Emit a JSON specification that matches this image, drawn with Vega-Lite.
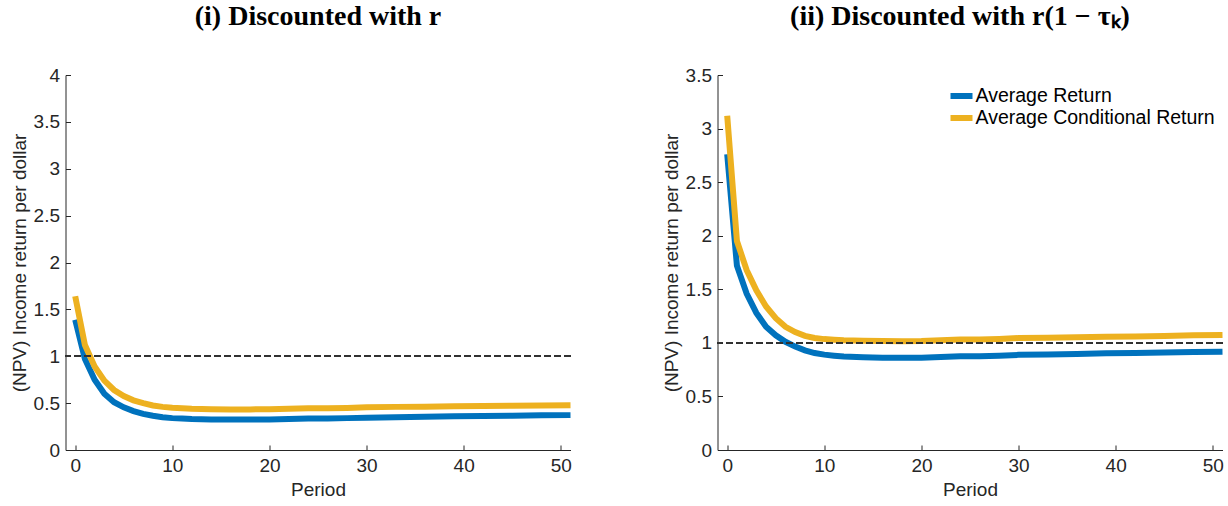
{
  "$schema": "https://vega.github.io/schema/vega-lite/v6.json",
  "padding": {"left": 9.5, "top": 3, "right": 2, "bottom": 2},
  "background": "white",
  "bounds": "flush",
  "spacing": 147,
  "datasets": {
    "d": [
      {"panel": "L", "series": "Average Return", "period": 0, "value": 1.39},
      {"panel": "L", "series": "Average Return", "period": 1, "value": 0.97},
      {"panel": "L", "series": "Average Return", "period": 2, "value": 0.75},
      {"panel": "L", "series": "Average Return", "period": 3, "value": 0.6},
      {"panel": "L", "series": "Average Return", "period": 4, "value": 0.51},
      {"panel": "L", "series": "Average Return", "period": 5, "value": 0.455},
      {"panel": "L", "series": "Average Return", "period": 6, "value": 0.415},
      {"panel": "L", "series": "Average Return", "period": 7, "value": 0.385},
      {"panel": "L", "series": "Average Return", "period": 8, "value": 0.365},
      {"panel": "L", "series": "Average Return", "period": 9, "value": 0.35},
      {"panel": "L", "series": "Average Return", "period": 10, "value": 0.34},
      {"panel": "L", "series": "Average Return", "period": 11, "value": 0.335},
      {"panel": "L", "series": "Average Return", "period": 12, "value": 0.33},
      {"panel": "L", "series": "Average Return", "period": 14, "value": 0.325},
      {"panel": "L", "series": "Average Return", "period": 16, "value": 0.325},
      {"panel": "L", "series": "Average Return", "period": 18, "value": 0.325},
      {"panel": "L", "series": "Average Return", "period": 20, "value": 0.325},
      {"panel": "L", "series": "Average Return", "period": 22, "value": 0.33},
      {"panel": "L", "series": "Average Return", "period": 24, "value": 0.335},
      {"panel": "L", "series": "Average Return", "period": 26, "value": 0.335},
      {"panel": "L", "series": "Average Return", "period": 28, "value": 0.34},
      {"panel": "L", "series": "Average Return", "period": 30, "value": 0.345},
      {"panel": "L", "series": "Average Return", "period": 33, "value": 0.35},
      {"panel": "L", "series": "Average Return", "period": 36, "value": 0.355},
      {"panel": "L", "series": "Average Return", "period": 39, "value": 0.36},
      {"panel": "L", "series": "Average Return", "period": 42, "value": 0.362},
      {"panel": "L", "series": "Average Return", "period": 45, "value": 0.365},
      {"panel": "L", "series": "Average Return", "period": 48, "value": 0.37},
      {"panel": "L", "series": "Average Return", "period": 51, "value": 0.372},
      {"panel": "L", "series": "Average Conditional Return", "period": 0, "value": 1.64},
      {"panel": "L", "series": "Average Conditional Return", "period": 1, "value": 1.12},
      {"panel": "L", "series": "Average Conditional Return", "period": 2, "value": 0.89},
      {"panel": "L", "series": "Average Conditional Return", "period": 3, "value": 0.74},
      {"panel": "L", "series": "Average Conditional Return", "period": 4, "value": 0.64},
      {"panel": "L", "series": "Average Conditional Return", "period": 5, "value": 0.575},
      {"panel": "L", "series": "Average Conditional Return", "period": 6, "value": 0.53},
      {"panel": "L", "series": "Average Conditional Return", "period": 7, "value": 0.5},
      {"panel": "L", "series": "Average Conditional Return", "period": 8, "value": 0.475},
      {"panel": "L", "series": "Average Conditional Return", "period": 9, "value": 0.46},
      {"panel": "L", "series": "Average Conditional Return", "period": 10, "value": 0.45},
      {"panel": "L", "series": "Average Conditional Return", "period": 11, "value": 0.445},
      {"panel": "L", "series": "Average Conditional Return", "period": 12, "value": 0.44},
      {"panel": "L", "series": "Average Conditional Return", "period": 14, "value": 0.435},
      {"panel": "L", "series": "Average Conditional Return", "period": 16, "value": 0.433},
      {"panel": "L", "series": "Average Conditional Return", "period": 18, "value": 0.433},
      {"panel": "L", "series": "Average Conditional Return", "period": 20, "value": 0.435},
      {"panel": "L", "series": "Average Conditional Return", "period": 22, "value": 0.44},
      {"panel": "L", "series": "Average Conditional Return", "period": 24, "value": 0.445},
      {"panel": "L", "series": "Average Conditional Return", "period": 26, "value": 0.445},
      {"panel": "L", "series": "Average Conditional Return", "period": 28, "value": 0.448},
      {"panel": "L", "series": "Average Conditional Return", "period": 30, "value": 0.455},
      {"panel": "L", "series": "Average Conditional Return", "period": 33, "value": 0.46},
      {"panel": "L", "series": "Average Conditional Return", "period": 36, "value": 0.462},
      {"panel": "L", "series": "Average Conditional Return", "period": 39, "value": 0.466},
      {"panel": "L", "series": "Average Conditional Return", "period": 42, "value": 0.47},
      {"panel": "L", "series": "Average Conditional Return", "period": 45, "value": 0.472},
      {"panel": "L", "series": "Average Conditional Return", "period": 48, "value": 0.475},
      {"panel": "L", "series": "Average Conditional Return", "period": 51, "value": 0.478},
      {"panel": "R", "series": "Average Return", "period": 0, "value": 2.76},
      {"panel": "R", "series": "Average Return", "period": 1, "value": 1.72},
      {"panel": "R", "series": "Average Return", "period": 2, "value": 1.46},
      {"panel": "R", "series": "Average Return", "period": 3, "value": 1.28},
      {"panel": "R", "series": "Average Return", "period": 4, "value": 1.15},
      {"panel": "R", "series": "Average Return", "period": 5, "value": 1.07},
      {"panel": "R", "series": "Average Return", "period": 6, "value": 1.01},
      {"panel": "R", "series": "Average Return", "period": 7, "value": 0.965},
      {"panel": "R", "series": "Average Return", "period": 8, "value": 0.93},
      {"panel": "R", "series": "Average Return", "period": 9, "value": 0.905},
      {"panel": "R", "series": "Average Return", "period": 10, "value": 0.89},
      {"panel": "R", "series": "Average Return", "period": 11, "value": 0.88},
      {"panel": "R", "series": "Average Return", "period": 12, "value": 0.872},
      {"panel": "R", "series": "Average Return", "period": 14, "value": 0.865},
      {"panel": "R", "series": "Average Return", "period": 16, "value": 0.862},
      {"panel": "R", "series": "Average Return", "period": 18, "value": 0.86},
      {"panel": "R", "series": "Average Return", "period": 20, "value": 0.862},
      {"panel": "R", "series": "Average Return", "period": 22, "value": 0.868},
      {"panel": "R", "series": "Average Return", "period": 24, "value": 0.875},
      {"panel": "R", "series": "Average Return", "period": 26, "value": 0.875},
      {"panel": "R", "series": "Average Return", "period": 28, "value": 0.88},
      {"panel": "R", "series": "Average Return", "period": 30, "value": 0.888},
      {"panel": "R", "series": "Average Return", "period": 33, "value": 0.892},
      {"panel": "R", "series": "Average Return", "period": 36, "value": 0.897},
      {"panel": "R", "series": "Average Return", "period": 39, "value": 0.902},
      {"panel": "R", "series": "Average Return", "period": 42, "value": 0.905},
      {"panel": "R", "series": "Average Return", "period": 45, "value": 0.91},
      {"panel": "R", "series": "Average Return", "period": 48, "value": 0.915},
      {"panel": "R", "series": "Average Return", "period": 51, "value": 0.918},
      {"panel": "R", "series": "Average Conditional Return", "period": 0, "value": 3.12},
      {"panel": "R", "series": "Average Conditional Return", "period": 1, "value": 1.95},
      {"panel": "R", "series": "Average Conditional Return", "period": 2, "value": 1.68},
      {"panel": "R", "series": "Average Conditional Return", "period": 3, "value": 1.49},
      {"panel": "R", "series": "Average Conditional Return", "period": 4, "value": 1.34},
      {"panel": "R", "series": "Average Conditional Return", "period": 5, "value": 1.23},
      {"panel": "R", "series": "Average Conditional Return", "period": 6, "value": 1.15},
      {"panel": "R", "series": "Average Conditional Return", "period": 7, "value": 1.1},
      {"panel": "R", "series": "Average Conditional Return", "period": 8, "value": 1.065},
      {"panel": "R", "series": "Average Conditional Return", "period": 9, "value": 1.045},
      {"panel": "R", "series": "Average Conditional Return", "period": 10, "value": 1.035},
      {"panel": "R", "series": "Average Conditional Return", "period": 11, "value": 1.03},
      {"panel": "R", "series": "Average Conditional Return", "period": 12, "value": 1.025},
      {"panel": "R", "series": "Average Conditional Return", "period": 14, "value": 1.02},
      {"panel": "R", "series": "Average Conditional Return", "period": 16, "value": 1.018},
      {"panel": "R", "series": "Average Conditional Return", "period": 18, "value": 1.016},
      {"panel": "R", "series": "Average Conditional Return", "period": 20, "value": 1.018},
      {"panel": "R", "series": "Average Conditional Return", "period": 22, "value": 1.025},
      {"panel": "R", "series": "Average Conditional Return", "period": 24, "value": 1.032},
      {"panel": "R", "series": "Average Conditional Return", "period": 26, "value": 1.032},
      {"panel": "R", "series": "Average Conditional Return", "period": 28, "value": 1.037},
      {"panel": "R", "series": "Average Conditional Return", "period": 30, "value": 1.045},
      {"panel": "R", "series": "Average Conditional Return", "period": 33, "value": 1.048},
      {"panel": "R", "series": "Average Conditional Return", "period": 36, "value": 1.052},
      {"panel": "R", "series": "Average Conditional Return", "period": 39, "value": 1.057},
      {"panel": "R", "series": "Average Conditional Return", "period": 42, "value": 1.06},
      {"panel": "R", "series": "Average Conditional Return", "period": 45, "value": 1.065},
      {"panel": "R", "series": "Average Conditional Return", "period": 48, "value": 1.07},
      {"panel": "R", "series": "Average Conditional Return", "period": 51, "value": 1.073}
    ]
  },
  "resolve": {"scale": {"color": "independent", "y": "independent"}, "legend": {"color": "independent"}},
  "hconcat": [
    {
      "width": 505,
      "height": 375,
      "title": {"text": "(i) Discounted with r"},
      "data": {"name": "d"},
      "transform": [{"filter": "datum.panel === 'L'"}],
      "layer": [
        {
          "mark": {"type": "line", "strokeWidth": 6, "strokeCap": "butt", "strokeJoin": "miter"},
          "encoding": {
            "x": {"field": "period", "type": "quantitative", "scale": {"domain": [-1, 51], "nice": false, "zero": false}, "axis": {"values": [0, 10, 20, 30, 40, 50], "title": "Period"}},
            "y": {"field": "value", "type": "quantitative", "scale": {"domain": [0, 4], "nice": false}, "axis": {"values": [0, 0.5, 1, 1.5, 2, 2.5, 3, 3.5, 4], "format": ".1~f", "title": "(NPV) Income return per dollar"}},
            "color": {"field": "series", "type": "nominal", "scale": {"domain": ["Average Return", "Average Conditional Return"], "range": ["#0072BD", "#EDB120"]}, "legend": null}
          }
        },
        {
          "mark": {"type": "rule", "strokeDash": [6, 4], "strokeWidth": 1, "color": "#333333"},
          "encoding": {"y": {"datum": 1}}
        }
      ]
    },
    {
      "width": 505,
      "height": 375,
      "title": {"text": "(ii) Discounted with r(1 − τₖ)", "dx": -10},
      "data": {"name": "d"},
      "transform": [{"filter": "datum.panel === 'R'"}],
      "layer": [
        {
          "mark": {"type": "line", "strokeWidth": 6, "strokeCap": "butt", "strokeJoin": "miter"},
          "encoding": {
            "x": {"field": "period", "type": "quantitative", "scale": {"domain": [-1, 51], "nice": false, "zero": false}, "axis": {"values": [0, 10, 20, 30, 40, 50], "title": "Period"}},
            "y": {"field": "value", "type": "quantitative", "scale": {"domain": [0, 3.5], "nice": false}, "axis": {"values": [0, 0.5, 1, 1.5, 2, 2.5, 3, 3.5], "format": ".1~f", "title": "(NPV) Income return per dollar"}},
            "color": {"field": "series", "type": "nominal", "scale": {"domain": ["Average Return", "Average Conditional Return"], "range": ["#0072BD", "#EDB120"]},
              "legend": {"title": null, "orient": "none", "legendX": 230, "legendY": 10, "symbolType": "stroke", "symbolStrokeWidth": 6, "symbolSize": 484, "clipHeight": 22, "labelFont": "Liberation Sans", "labelFontSize": 19.5, "labelColor": "#000000", "labelOffset": 0, "rowPadding": 0, "labelLimit": 400}}
          }
        },
        {
          "mark": {"type": "rule", "strokeDash": [6, 4], "strokeWidth": 1, "color": "#333333"},
          "encoding": {"y": {"datum": 1}}
        }
      ]
    }
  ],
  "config": {
    "view": {"stroke": null},
    "title": {"font": "Liberation Serif", "fontSize": 28, "fontWeight": "bold", "color": "#000000", "offset": 35, "anchor": "middle"},
    "axis": {"grid": false, "domainColor": "#262626", "tickColor": "#262626", "labelColor": "#262626", "titleColor": "#262626", "labelFont": "Liberation Sans", "titleFont": "Liberation Sans", "labelFontSize": 19, "titleFontSize": 19, "titleFontWeight": "normal", "tickSize": -5, "labelPadding": 11, "domainWidth": 1, "tickWidth": 1},
    "axisX": {"titlePadding": 5},
    "axisY": {"titlePadding": 4}
  }
}
